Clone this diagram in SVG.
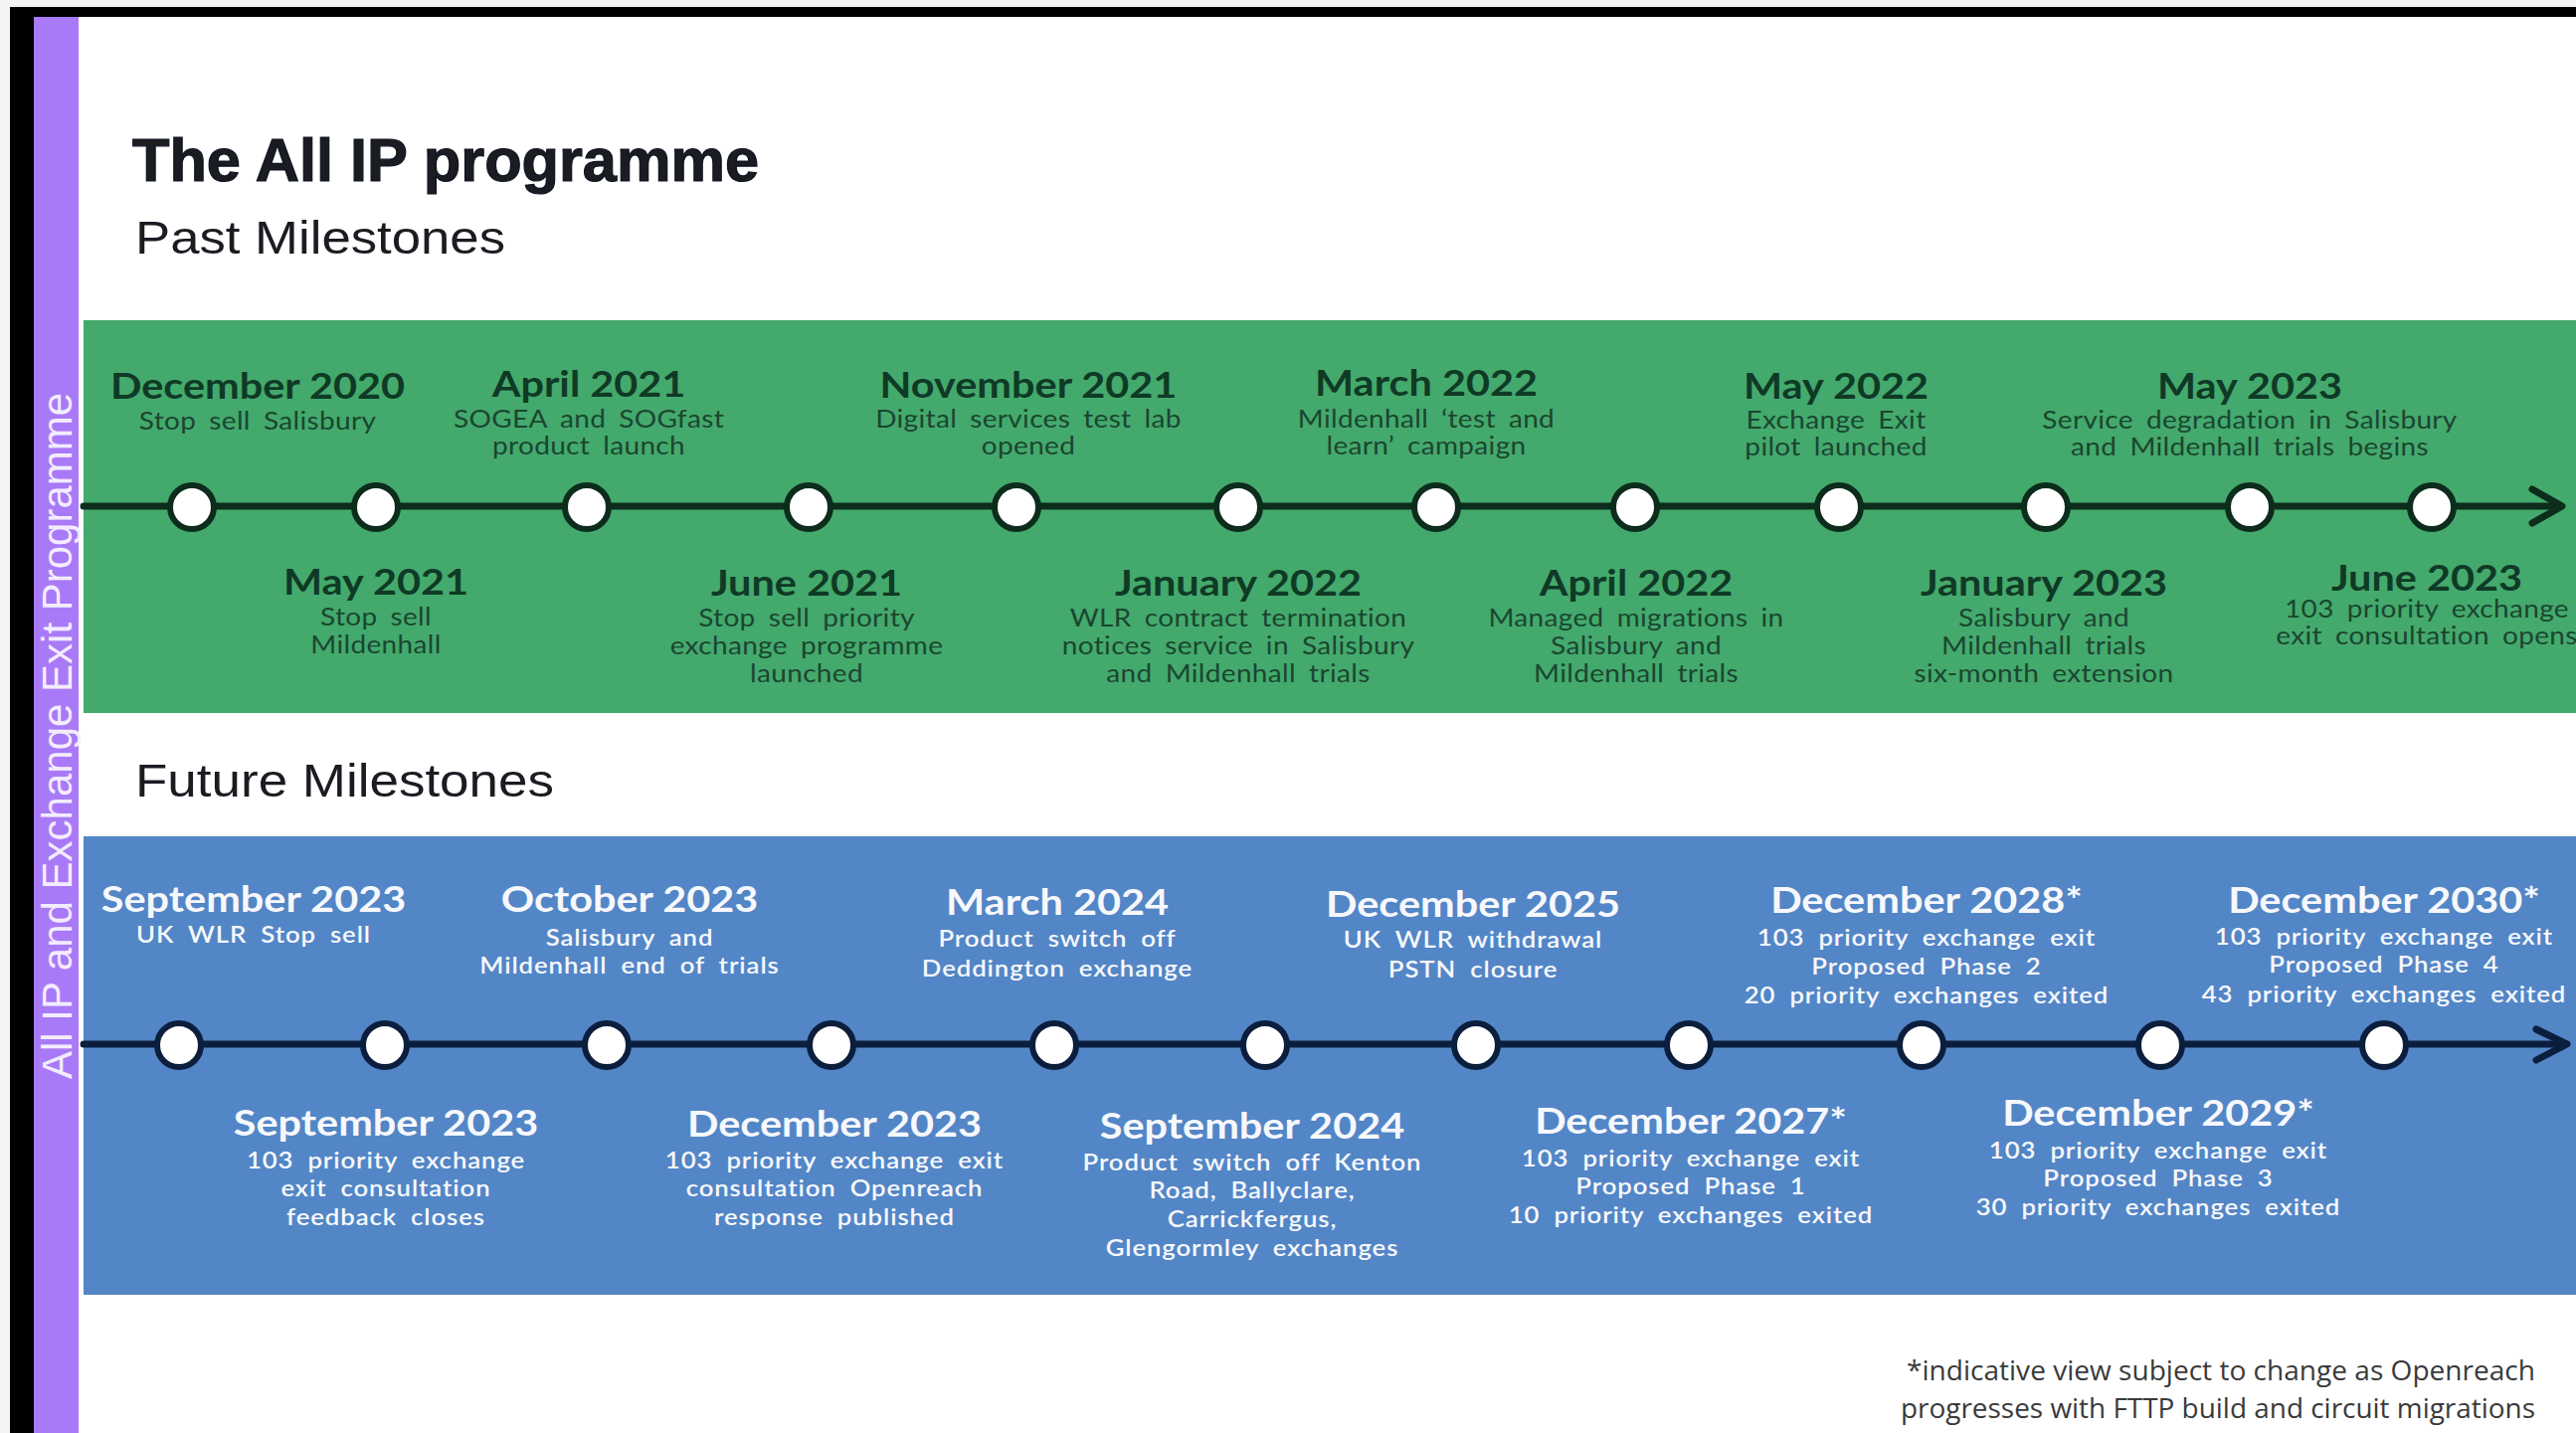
<svg xmlns="http://www.w3.org/2000/svg" width="2590" height="1441" viewBox="0 0 2590 1441">
<style>
.dt{font-family:Lato,"Liberation Sans",sans-serif;font-weight:700;font-size:37px;text-anchor:middle}
.sg{font-family:Lato,"Liberation Sans",sans-serif;font-weight:400;font-size:25px;letter-spacing:0.3px;word-spacing:5px;text-anchor:middle}
.sb{font-family:Lato,"Liberation Sans",sans-serif;font-weight:600;font-size:23px;letter-spacing:0.8px;word-spacing:6px;text-anchor:middle}
.gp .dt{fill:#0f3a26}
.gp .sg{fill:#1a4631}
.bp .dt,.bp .sb{fill:#f6f8fc}
.cg{fill:#ffffff;stroke:#0c2c1c;stroke-width:6}
.cb{fill:#ffffff;stroke:#0c1e3d;stroke-width:6}
.lg{stroke:#0c2c1c;stroke-width:7;fill:none;stroke-linecap:round;stroke-linejoin:round}
.lb{stroke:#0c1e3d;stroke-width:7;fill:none;stroke-linecap:round;stroke-linejoin:round}
.hd{font-family:"Liberation Sans",Arial,sans-serif;fill:#1b1b22}
</style>
<rect x="0" y="0" width="2590" height="1441" fill="#f4f3f2"/>
<rect x="10" y="7" width="2580" height="1434" fill="#000000"/>
<rect x="34" y="17" width="2556" height="1424" fill="#ffffff"/>
<rect id="sidebar" x="34" y="17" width="45" height="1424" fill="#a97af7"/>
<text transform="translate(72 740) rotate(-90)" font-family="Liberation Sans,Arial,sans-serif" font-size="42" fill="#f3ecff" text-anchor="middle">All IP and Exchange Exit Programme</text>

<text class="hd" x="133" y="182" font-size="61" font-weight="700" fill="#0d1424" stroke="#0d1424" stroke-width="1.2" textLength="630" lengthAdjust="spacingAndGlyphs">The All IP programme</text>
<text class="hd" x="136" y="255" font-size="46" textLength="372" lengthAdjust="spacingAndGlyphs">Past Milestones</text>
<text class="hd" x="136" y="801" font-size="46" textLength="421" lengthAdjust="spacingAndGlyphs">Future Milestones</text>

<rect id="past-panel" x="84" y="322" width="2506" height="395" fill="#44a96c"/>
<rect id="future-panel" x="84" y="841" width="2506" height="461" fill="#5386c6"/>

<g id="connectors">
<line class="lg" x1="84" y1="509" x2="2574" y2="509"/>
<polyline class="lg" points="2546,492 2576,509 2546,526"/>
<line class="lb" x1="84" y1="1050" x2="2579" y2="1050"/>
<polyline class="lb" points="2550,1035 2581,1050 2550,1066"/>
</g>

<g class="gp">
<g id="dec2020"><circle class="cg" cx="193" cy="510" r="22"/><g transform="translate(259 0) scale(1.12 1)"><text class="dt" x="0" y="401">December 2020</text><text class="sg" x="0" y="432">Stop sell Salisbury</text></g></g>
<g id="may2021"><circle class="cg" cx="378" cy="510" r="22"/><g transform="translate(378 0) scale(1.12 1)"><text class="dt" x="0" y="598">May 2021</text><text class="sg" x="0" y="629">Stop sell</text><text class="sg" x="0" y="657">Mildenhall</text></g></g>
<g id="apr2021"><circle class="cg" cx="590" cy="510" r="22"/><g transform="translate(592 0) scale(1.12 1)"><text class="dt" x="0" y="399">April 2021</text><text class="sg" x="0" y="430">SOGEA and SOGfast</text><text class="sg" x="0" y="457">product launch</text></g></g>
<g id="jun2021"><circle class="cg" cx="813" cy="510" r="22"/><g transform="translate(811 0) scale(1.12 1)"><text class="dt" x="0" y="599">June 2021</text><text class="sg" x="0" y="630">Stop sell priority</text><text class="sg" x="0" y="658">exchange programme</text><text class="sg" x="0" y="686">launched</text></g></g>
<g id="nov2021"><circle class="cg" cx="1022" cy="510" r="22"/><g transform="translate(1034 0) scale(1.12 1)"><text class="dt" x="0" y="400">November 2021</text><text class="sg" x="0" y="430">Digital services test lab</text><text class="sg" x="0" y="457">opened</text></g></g>
<g id="jan2022"><circle class="cg" cx="1245" cy="510" r="22"/><g transform="translate(1245 0) scale(1.12 1)"><text class="dt" x="0" y="599">January 2022</text><text class="sg" x="0" y="630">WLR contract termination</text><text class="sg" x="0" y="658">notices service in Salisbury</text><text class="sg" x="0" y="686">and Mildenhall trials</text></g></g>
<g id="mar2022"><circle class="cg" cx="1444" cy="510" r="22"/><g transform="translate(1434 0) scale(1.12 1)"><text class="dt" x="0" y="398">March 2022</text><text class="sg" x="0" y="430">Mildenhall ‘test and</text><text class="sg" x="0" y="457">learn’ campaign</text></g></g>
<g id="apr2022"><circle class="cg" cx="1644" cy="510" r="22"/><g transform="translate(1645 0) scale(1.12 1)"><text class="dt" x="0" y="599">April 2022</text><text class="sg" x="0" y="630">Managed migrations in</text><text class="sg" x="0" y="658">Salisbury and</text><text class="sg" x="0" y="686">Mildenhall trials</text></g></g>
<g id="may2022"><circle class="cg" cx="1849" cy="510" r="22"/><g transform="translate(1846 0) scale(1.12 1)"><text class="dt" x="0" y="401">May 2022</text><text class="sg" x="0" y="431">Exchange Exit</text><text class="sg" x="0" y="458">pilot launched</text></g></g>
<g id="jan2023"><circle class="cg" cx="2057" cy="510" r="22"/><g transform="translate(2055 0) scale(1.12 1)"><text class="dt" x="0" y="599">January 2023</text><text class="sg" x="0" y="630">Salisbury and</text><text class="sg" x="0" y="658">Mildenhall trials</text><text class="sg" x="0" y="686">six-month extension</text></g></g>
<g id="may2023"><circle class="cg" cx="2262" cy="510" r="22"/><g transform="translate(2262 0) scale(1.12 1)"><text class="dt" x="0" y="401">May 2023</text><text class="sg" x="0" y="431">Service degradation in Salisbury</text><text class="sg" x="0" y="458">and Mildenhall trials begins</text></g></g>
<g id="jun2023"><circle class="cg" cx="2445" cy="510" r="22"/><g transform="translate(2440 0) scale(1.12 1)"><text class="dt" x="0" y="594">June 2023</text><text class="sg" x="0" y="621">103 priority exchange</text><text class="sg" x="0" y="648">exit consultation opens</text></g></g>
</g>

<g class="bp">
<g id="sep2023a"><circle class="cb" cx="180" cy="1051" r="22"/><g transform="translate(255 0) scale(1.12 1)"><text class="dt" x="0" y="917">September 2023</text><text class="sb" x="0" y="948">UK WLR Stop sell</text></g></g>
<g id="sep2023b"><circle class="cb" cx="387" cy="1051" r="22"/><g transform="translate(388 0) scale(1.12 1)"><text class="dt" x="0" y="1142">September 2023</text><text class="sb" x="0" y="1175">103 priority exchange</text><text class="sb" x="0" y="1203">exit consultation</text><text class="sb" x="0" y="1232">feedback closes</text></g></g>
<g id="oct2023"><circle class="cb" cx="610" cy="1051" r="22"/><g transform="translate(633 0) scale(1.12 1)"><text class="dt" x="0" y="917">October 2023</text><text class="sb" x="0" y="951">Salisbury and</text><text class="sb" x="0" y="979">Mildenhall end of trials</text></g></g>
<g id="dec2023"><circle class="cb" cx="836" cy="1051" r="22"/><g transform="translate(839 0) scale(1.12 1)"><text class="dt" x="0" y="1143">December 2023</text><text class="sb" x="0" y="1175">103 priority exchange exit</text><text class="sb" x="0" y="1203">consultation Openreach</text><text class="sb" x="0" y="1232">response published</text></g></g>
<g id="mar2024"><circle class="cb" cx="1060" cy="1051" r="22"/><g transform="translate(1063 0) scale(1.12 1)"><text class="dt" x="0" y="920">March 2024</text><text class="sb" x="0" y="952">Product switch off</text><text class="sb" x="0" y="982">Deddington exchange</text></g></g>
<g id="sep2024"><circle class="cb" cx="1272" cy="1051" r="22"/><g transform="translate(1259 0) scale(1.12 1)"><text class="dt" x="0" y="1145">September 2024</text><text class="sb" x="0" y="1177">Product switch off Kenton</text><text class="sb" x="0" y="1205">Road, Ballyclare,</text><text class="sb" x="0" y="1234">Carrickfergus,</text><text class="sb" x="0" y="1263">Glengormley exchanges</text></g></g>
<g id="dec2025"><circle class="cb" cx="1484" cy="1051" r="22"/><g transform="translate(1481 0) scale(1.12 1)"><text class="dt" x="0" y="922">December 2025</text><text class="sb" x="0" y="953">UK WLR withdrawal</text><text class="sb" x="0" y="983">PSTN closure</text></g></g>
<g id="dec2027"><circle class="cb" cx="1698" cy="1051" r="22"/><g transform="translate(1700 0) scale(1.12 1)"><text class="dt" x="0" y="1140">December 2027*</text><text class="sb" x="0" y="1173">103 priority exchange exit</text><text class="sb" x="0" y="1201">Proposed Phase 1</text><text class="sb" x="0" y="1230">10 priority exchanges exited</text></g></g>
<g id="dec2028"><circle class="cb" cx="1932" cy="1051" r="22"/><g transform="translate(1937 0) scale(1.12 1)"><text class="dt" x="0" y="918">December 2028*</text><text class="sb" x="0" y="951">103 priority exchange exit</text><text class="sb" x="0" y="980">Proposed Phase 2</text><text class="sb" x="0" y="1009">20 priority exchanges exited</text></g></g>
<g id="dec2029"><circle class="cb" cx="2172" cy="1051" r="22"/><g transform="translate(2170 0) scale(1.12 1)"><text class="dt" x="0" y="1132">December 2029*</text><text class="sb" x="0" y="1165">103 priority exchange exit</text><text class="sb" x="0" y="1193">Proposed Phase 3</text><text class="sb" x="0" y="1222">30 priority exchanges exited</text></g></g>
<g id="dec2030"><circle class="cb" cx="2397" cy="1051" r="22"/><g transform="translate(2397 0) scale(1.12 1)"><text class="dt" x="0" y="918">December 2030*</text><text class="sb" x="0" y="950">103 priority exchange exit</text><text class="sb" x="0" y="978">Proposed Phase 4</text><text class="sb" x="0" y="1008">43 priority exchanges exited</text></g></g>
</g>

<g id="footnote" font-family="Open Sans,Liberation Sans,sans-serif" font-size="27" fill="#3a3a3a" text-anchor="end">
<text x="2549" y="1388" textLength="632" lengthAdjust="spacingAndGlyphs">*indicative view subject to change as Openreach</text>
<text x="2549" y="1426" textLength="638" lengthAdjust="spacingAndGlyphs">progresses with FTTP build and circuit migrations</text>
</g>
</svg>
